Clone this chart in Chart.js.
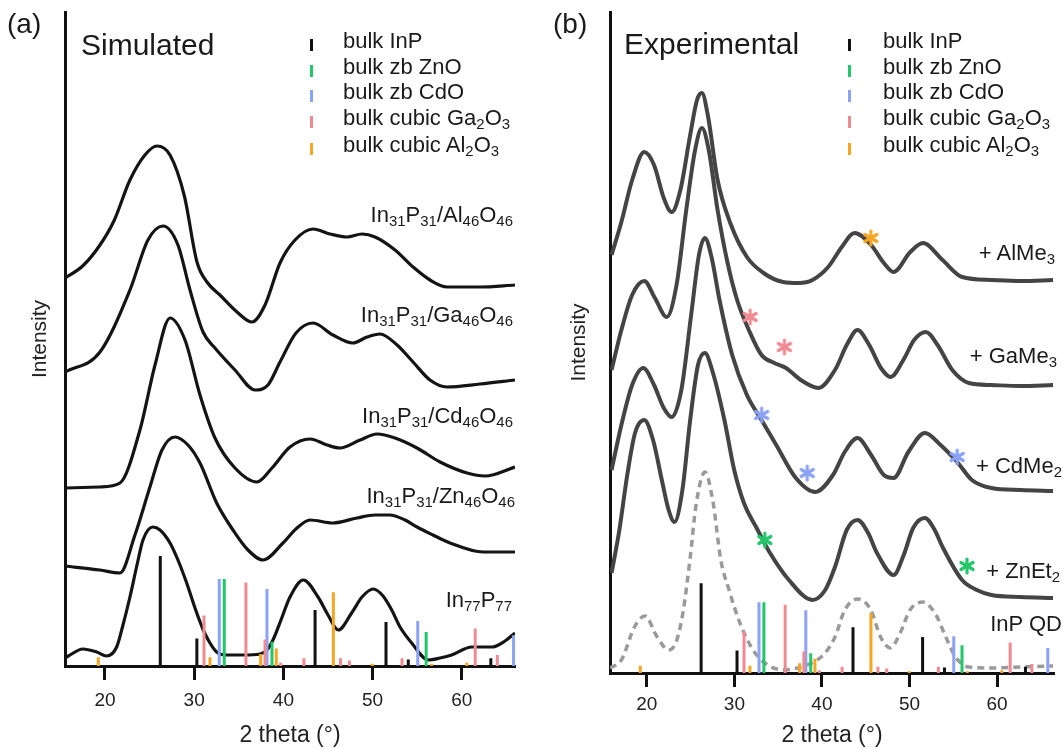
<!DOCTYPE html>
<html><head><meta charset="utf-8">
<script src="https://cdn.jsdelivr.net/npm/chart.js@4.4.1/dist/chart.umd.min.js"></script>
<style>
html,body{margin:0;padding:0;background:#fff;}
#wrap{position:relative;width:1064px;height:749px;overflow:hidden;font-family:"Liberation Sans",Arial,sans-serif;color:#1a1a1a;}
canvas{position:absolute;top:0;}
.t{position:absolute;white-space:nowrap;line-height:1;}
.t sub{font-size:0.68em;vertical-align:-0.28em;line-height:0;}
.mk{position:absolute;width:3px;height:12px;}
</style></head><body>
<div id="wrap">
<canvas id="ca" width="540" height="749" style="left:0"></canvas>
<canvas id="cb" width="524" height="749" style="left:540px"></canvas>

<div class="t" style="left:7px;top:10px;font-size:28px">(a)</div>
<div class="t" style="left:81px;top:30px;font-size:30px">Simulated</div>
<div class="t" style="left:553px;top:10px;font-size:28px">(b)</div>
<div class="t" style="left:624px;top:29px;font-size:30px">Experimental</div>

<div class="mk" style="left:310px;top:39px;background:#111"></div>
<div class="mk" style="left:310px;top:64.5px;background:#22c76a"></div>
<div class="mk" style="left:310px;top:90px;background:#8ba2f6"></div>
<div class="mk" style="left:310px;top:116px;background:#f08a92"></div>
<div class="mk" style="left:310px;top:143px;background:#f5a623"></div>
<div class="t" style="left:343px;top:30px;font-size:22px">bulk InP</div>
<div class="t" style="left:343px;top:55.5px;font-size:22px">bulk zb ZnO</div>
<div class="t" style="left:343px;top:81px;font-size:22px">bulk zb CdO</div>
<div class="t" style="left:343px;top:107px;font-size:22px">bulk cubic Ga<sub>2</sub>O<sub>3</sub></div>
<div class="t" style="left:343px;top:134px;font-size:22px">bulk cubic Al<sub>2</sub>O<sub>3</sub></div>

<div class="mk" style="left:848px;top:39px;background:#111"></div>
<div class="mk" style="left:848px;top:64.5px;background:#22c76a"></div>
<div class="mk" style="left:848px;top:90px;background:#8ba2f6"></div>
<div class="mk" style="left:848px;top:116px;background:#f08a92"></div>
<div class="mk" style="left:848px;top:143px;background:#f5a623"></div>
<div class="t" style="left:883px;top:30px;font-size:22px">bulk InP</div>
<div class="t" style="left:883px;top:55.5px;font-size:22px">bulk zb ZnO</div>
<div class="t" style="left:883px;top:81px;font-size:22px">bulk zb CdO</div>
<div class="t" style="left:883px;top:107px;font-size:22px">bulk cubic Ga<sub>2</sub>O<sub>3</sub></div>
<div class="t" style="left:883px;top:134px;font-size:22px">bulk cubic Al<sub>2</sub>O<sub>3</sub></div>

<div class="t" style="right:551px;top:204px;font-size:22px">In<sub>31</sub>P<sub>31</sub>/Al<sub>46</sub>O<sub>46</sub></div>
<div class="t" style="right:551px;top:304px;font-size:22px">In<sub>31</sub>P<sub>31</sub>/Ga<sub>46</sub>O<sub>46</sub></div>
<div class="t" style="right:551px;top:405px;font-size:22px">In<sub>31</sub>P<sub>31</sub>/Cd<sub>46</sub>O<sub>46</sub></div>
<div class="t" style="right:549px;top:485px;font-size:22px">In<sub>31</sub>P<sub>31</sub>/Zn<sub>46</sub>O<sub>46</sub></div>
<div class="t" style="right:552px;top:589px;font-size:22px">In<sub>77</sub>P<sub>77</sub></div>

<div class="t" style="right:9px;top:242px;font-size:22px">+ AlMe<sub>3</sub></div>
<div class="t" style="right:7px;top:345px;font-size:22px">+ GaMe<sub>3</sub></div>
<div class="t" style="right:2px;top:455px;font-size:22px">+ CdMe<sub>2</sub></div>
<div class="t" style="right:4px;top:560px;font-size:22px">+ ZnEt<sub>2</sub></div>
<div class="t" style="right:2px;top:613px;font-size:22px">InP QD</div>
</div>
<script>
// ---------- tick labels ----------
const xTickValues = [20, 30, 40, 50, 60];

// ---------- reference sticks (relative intensity, InP(111)=100) ----------
const inpPos = [26.2, 30.3, 43.55, 51.5, 54.0, 63.25];
const inpInt = [100, 25, 51, 40, 6, 7];
const znoPos = [33.37, 38.72, 56.0];
const znoInt = [79, 22, 31];
const cdoPos = [32.81, 38.16, 55.06, 65.8];
const cdoInt = [79, 70, 41, 28];
const gaoPos = [31.1, 35.8, 37.94, 39.7, 42.3, 46.4, 47.4, 53.3, 61.5, 63.98];
const gaoInt = [46, 76, 24, 3, 7, 7, 5, 7, 34, 10];
const aloPos = [19.25, 31.77, 37.45, 39.2, 45.6, 49.97, 56.6, 60.55];
const aloInt = [8, 8, 11, 16, 67, 2, 2, 3];

// ---------- (a) simulated patterns (offset intensity) ----------
const simAlX = [15.52,17.5,19.44,21.0,22.8,24.48,25.83,27.29,28.9,30.31,31.43,32.89,34.8,36.48,37.94,39.62,41.3,43.32,45.22,47.13,48.81,50.27,52.51,54.53,56.43,58.34,62.04,65.96];
const simAlY = [388,400,421,445,486,511,520,511,470,404,384,371,354,344,361,403,426,437,432,429,432,429,416,399,386,379,379,381];
const simGaX = [15.52,19.44,22.8,24.82,26.5,28.18,29.53,30.99,32.33,34.57,36.82,38.27,39.62,41.41,43.32,45.56,47.8,49.37,50.83,52.74,54.53,56.43,58.34,62.04,65.96];
const simGaY = [294,314,376,426,440,421,376,334,318,296,276,281,304,333,343,331,323,329,332,321,304,286,279,282,286];
const simCdX = [15.52,19.44,21.68,23.92,25.61,27.29,28.97,30.65,32.33,34.57,37.04,38.72,40.74,42.98,44.89,46.35,48.59,50.49,52.51,54.98,57.56,60.58,62.6,65.96];
const simCdY = [178,179,183,236,301,348,326,271,228,198,184,198,219,227,221,218,226,232,228,218,204,193,190,199];
const simZnX = [15.52,19.44,21.68,23.36,25.04,26.39,27.85,29.3,30.65,32.52,34.35,36.03,37.71,39.95,41.52,42.98,45.56,48.25,50.27,51.91,53.63,54.98,56.77,58.68,62.38,65.96];
const simZnY = [100,96,93,131,179,216,229,221,203,163,136,116,106,123,138,146,143,148,151,151,146,139,131,123,114,114];
const simInPX = [15.52,15.89,17.53,19.07,20.19,21.31,22.02,22.8,23.59,24.26,25.35,26.17,27.29,28.18,29.16,30.09,31.02,31.77,32.52,33.64,35.47,37.38,38.16,38.83,39.73,40.74,42.23,43.88,45.0,46.15,47.65,48.81,50.08,51.17,52.14,53.07,54.38,56.24,57.55,58.86,61.11,63.35,64.84,65.96];
const simInPY = [8,10,17,14,10,19,41,69,101,126,139,136,123,106,83,58,36,23,14,11,11,12,16,26,46,69,86,69,51,36,53,69,77,70,56,39,23,6,8,11,19,19,25,33];

// ---------- (b) experimental patterns (offset intensity) ----------
const expAlX = [15.97,17.09,18.32,19.7,20.82,21.93,22.83,23.83,24.95,25.73,26.29,26.96,28.08,29.53,31.43,33.33,35.56,37.35,38.92,40.71,42.27,43.72,45.62,47.07,48.19,50.09,51.54,53.78,56.01,59.36,62.71,66.4];
const expAlY = [418,451,493,521,508,475,461,483,538,573,580,558,493,450,416,400,391,390,393,406,426,440,428,410,401,421,430,413,396,393,392,393];
const expGaX = [15.97,17.09,18.32,19.7,20.92,22.27,23.39,24.5,25.51,26.29,27.07,28.08,29.2,30.31,31.65,33.1,34.56,35.9,37.58,39.59,41.49,42.83,44.06,45.4,46.74,47.85,49.3,50.53,51.87,53.21,54.89,56.79,59.36,62.71,66.4];
const expGaY = [303,343,378,392,375,356,388,463,523,545,523,463,411,373,343,318,310,305,293,285,303,328,343,328,305,296,313,333,341,328,303,290,288,287,288];
const expCdX = [15.97,17.09,18.32,19.59,20.82,21.93,22.83,23.94,25.06,25.95,26.63,27.41,28.3,29.75,31.43,33.1,34.78,37.02,39.25,41.26,42.6,44.06,45.62,47.07,48.19,49.87,51.76,53.55,55.45,57.13,59.36,62.71,66.4];
const expCdY = [203,248,288,305,288,265,256,283,358,418,435,415,373,318,278,253,228,195,181,198,221,235,218,198,195,221,240,228,211,193,185,183,182];
const expZnX = [15.97,16.86,17.76,18.65,19.7,20.71,21.71,22.49,23.16,24.06,24.95,25.84,26.63,27.52,28.86,29.98,31.09,32.54,34.0,36.23,38.92,40.37,41.49,42.83,44.06,45.28,46.29,48.19,49.3,50.42,51.76,52.88,53.78,56.01,57.69,59.36,62.71,66.4];
const expZnY = [100,143,198,240,253,233,193,163,151,183,253,308,320,301,253,203,170,145,121,93,73,83,106,143,153,140,120,98,117,145,155,143,126,93,83,78,76,75];
const expQDX = [15.79,17.09,18.58,19.78,21.18,22.49,23.42,24.17,24.92,25.62,26.63,27.52,28.45,29.39,30.5,31.99,33.47,35.71,37.58,39.44,40.37,41.49,42.61,44.09,45.59,46.7,47.82,48.94,50.06,51.54,53.03,54.15,55.26,56.76,58.99,62.72,66.4];
const expQDY = [5,13,46,57,36,23,33,63,113,168,201,173,113,83,53,25,10,3,6,13,20,36,63,74,63,36,25,40,63,71,58,36,16,6,5,6,7];

// ---------- asterisks in (b) ----------
const starAlX = [45.58], starAlY = [435];
const starGaX = [31.8, 35.71], starGaY = [356, 326];
const starCdX = [33.11, 38.32, 55.45], starCdY = [258, 200, 216];
const starZnX = [33.47, 56.57], starZnY = [133, 107];

// ---------- build ----------
const FONT = '"Liberation Sans", Arial, sans-serif';
Chart.defaults.font.family = FONT;
const COL = {inp:'#111111', zno:'#22c76a', cdo:'#8ba2f6', gao:'#f08a92', alo:'#f5a623'};

const zip = (xs, ys) => xs.map((x, i) => ({x, y: ys[i]}));
function stickData(pos, inten) {
  const d = [];
  pos.forEach((p, i) => { d.push({x: p, y: 0}, {x: p, y: inten[i]}, {x: p, y: null}); });
  return d;
}
function stickSets() {
  const mk = (pos, inten, c) => ({data: stickData(pos, inten), yAxisID: 'yS', showLine: true, borderColor: c,
    borderWidth: 3, pointRadius: 0, tension: 0, borderCapStyle: 'butt', spanGaps: false});
  return [mk(inpPos, inpInt, COL.inp), mk(aloPos, aloInt, COL.alo), mk(gaoPos, gaoInt, COL.gao),
          mk(cdoPos, cdoInt, COL.cdo), mk(znoPos, znoInt, COL.zno)];
}
const curve = (xs, ys, color, w, dash) => ({data: zip(xs, ys), yAxisID: 'y', showLine: true, borderColor: color,
  borderWidth: w, pointRadius: 0, cubicInterpolationMode: 'monotone', borderDash: dash || [], borderJoinStyle: 'round'});
function asterisk(color) {
  const c = document.createElement('canvas');
  c.width = 18; c.height = 18;
  const g = c.getContext('2d');
  g.strokeStyle = color; g.lineWidth = 3.2; g.lineCap = 'round';
  for (let k = 0; k < 3; k++) {
    const a = Math.PI / 2 + k * Math.PI / 3;
    g.beginPath();
    g.moveTo(9 + 7 * Math.cos(a), 9 + 7 * Math.sin(a));
    g.lineTo(9 - 7 * Math.cos(a), 9 - 7 * Math.sin(a));
    g.stroke();
  }
  return c;
}
const stars = (xs, ys, c) => ({data: zip(xs, ys), yAxisID: 'y', showLine: false, pointStyle: asterisk(c),
  pointRadius: 9, borderColor: c, backgroundColor: c});

function makeChart(id, datasets, o) {
  return new Chart(document.getElementById(id), {
    type: 'scatter',
    data: {datasets},
    options: {
      responsive: false, animation: false, devicePixelRatio: 1, events: [],
      layout: {padding: {left: 0, right: o.padRight, top: 12, bottom: 0}},
      plugins: {legend: {display: false}, tooltip: {enabled: false}},
      scales: {
        x: {
          type: 'linear', min: o.xmin, max: o.xmax,
          afterBuildTicks: s => { s.ticks = xTickValues.map(v => ({value: v})); },
          afterFit: s => { s.height = o.xh; },
          ticks: {color: '#222', font: {size: 19}, padding: o.tickPad, callback: v => String(v)},
          grid: {display: true, drawOnChartArea: false, drawTicks: true, tickLength: 14, tickWidth: 3, tickColor: '#111'},
          border: {display: true, color: '#111', width: 3},
          title: {display: true, text: '2 theta (°)', color: '#222', font: {size: 23}, padding: {top: 0, bottom: 0}}
        },
        y: {
          type: 'linear', position: 'left', min: 0, max: o.ymax,
          afterFit: s => { s.width = o.yw; },
          ticks: {display: false},
          grid: {display: false},
          border: {display: true, color: '#111', width: 3},
          title: {display: true, text: 'Intensity', color: '#222', font: {size: 21}, padding: {top: o.titlePad, bottom: 0}}
        },
        yS: {type: 'linear', display: false, min: 0, max: o.smax}
      }
    }
  });
}

const simColor = '#141414', expColor = '#444444';
makeChart('ca', [
  ...stickSets(),
  curve(simInPX, simInPY, simColor, 3.2),
  curve(simZnX, simZnY, simColor, 3.2),
  curve(simCdX, simCdY, simColor, 3.2),
  curve(simGaX, simGaY, simColor, 3.2),
  curve(simAlX, simAlY, simColor, 3.2)
], {xmin: 15.52, xmax: 65.96, ymax: 654, smax: 594.5, padRight: 25, yw: 65, xh: 83, tickPad: 9, titlePad: 27.4});

makeChart('cb', [
  stars(starAlX, starAlY, COL.alo),
  stars(starGaX, starGaY, COL.gao),
  stars(starCdX, starCdY, COL.cdo),
  stars(starZnX, starZnY, COL.zno),
  ...stickSets(),
  curve(expQDX, expQDY, '#9a9a9a', 3.5, [7, 5]),
  curve(expZnX, expZnY, expColor, 4),
  curve(expCdX, expCdY, expColor, 4),
  curve(expGaX, expGaY, expColor, 4),
  curve(expAlX, expAlY, expColor, 4)
], {xmin: 15.79, xmax: 66.51, ymax: 661, smax: 737, padRight: 0, yw: 70, xh: 76, tickPad: 6, titlePad: 26.4});
</script>
</body></html>
